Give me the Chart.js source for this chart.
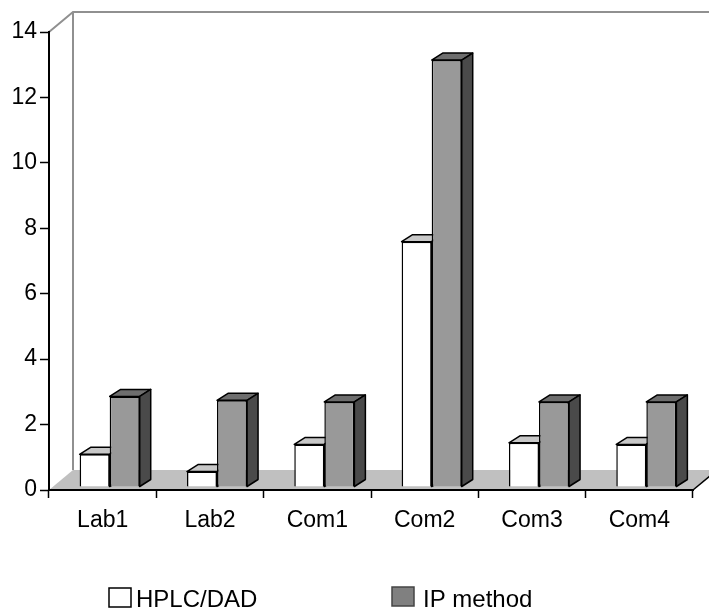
<!DOCTYPE html>
<html>
<head>
<meta charset="utf-8">
<script src="https://cdn.jsdelivr.net/npm/chart.js@4"></script>
<style>
  body { margin: 0; background: #fff; }
  .wrap { width: 709px; height: 608px; }
</style>
</head>
<body>
<div class="wrap"><canvas id="chart"></canvas></div>
<script>
const categories = ['Lab1', 'Lab2', 'Com1', 'Com2', 'Com3', 'Com4'];
const hplcValues = [1.0, 0.47, 1.3, 7.5, 1.35, 1.3];
const ipValues = [2.77, 2.65, 2.6, 13.05, 2.6, 2.6];
const seriesNames = ['HPLC/DAD', 'IP method'];
const yMax = 14;
const yStep = 2;

// fake 3d look
const depth = {x: 11, y: -7};
const shift = {x: 7, y: -3};
const wall = {x: 24, y: -20};
const faceColors = [
  {top: '#c8c8c8', side: '#bcbcbc'},
  {top: '#6e6e6e', side: '#4a4a4a'}
];

Chart.defaults.font.family = "'Liberation Sans', Arial, sans-serif";
Chart.defaults.color = '#000';

const box3d = {
  id: 'box3d',
  beforeDraw(chart) {
    const ctx = chart.ctx;
    const a = chart.chartArea;
    ctx.save();
    // floor
    ctx.beginPath();
    ctx.moveTo(a.left, a.bottom);
    ctx.lineTo(a.right, a.bottom);
    ctx.lineTo(a.right + wall.x, a.bottom + wall.y);
    ctx.lineTo(a.left + wall.x, a.bottom + wall.y);
    ctx.closePath();
    ctx.fillStyle = '#c0c0c0';
    ctx.fill();
    ctx.strokeStyle = '#000';
    ctx.lineWidth = 1.5;
    ctx.beginPath();
    ctx.moveTo(a.right, a.bottom);
    ctx.lineTo(a.right + wall.x, a.bottom + wall.y);
    ctx.stroke();
    // side and back wall
    ctx.strokeStyle = '#909090';
    ctx.lineWidth = 2;
    ctx.beginPath();
    ctx.moveTo(a.left, a.top);
    ctx.lineTo(a.left + wall.x, a.top + wall.y);
    ctx.lineTo(chart.width, a.top + wall.y);
    ctx.moveTo(a.left + wall.x, a.top + wall.y);
    ctx.lineTo(a.left + wall.x, a.bottom + wall.y);
    ctx.stroke();
    ctx.restore();
  },
  beforeDatasetsDraw(chart) {
    const ctx = chart.ctx;
    ctx.save();
    ctx.translate(shift.x, shift.y);
    chart.data.datasets.forEach((ds, i) => {
      chart.getDatasetMeta(i).data.forEach(bar => {
        const p = bar.getProps(['x', 'y', 'base', 'width'], true);
        const l = p.x - p.width / 2;
        const r = p.x + p.width / 2;
        ctx.lineWidth = 1.5;
        ctx.strokeStyle = '#000';
        ctx.lineJoin = 'round';
        // top face
        ctx.beginPath();
        ctx.moveTo(l, p.y);
        ctx.lineTo(l + depth.x, p.y + depth.y);
        ctx.lineTo(r + depth.x, p.y + depth.y);
        ctx.lineTo(r, p.y);
        ctx.closePath();
        ctx.fillStyle = faceColors[i].top;
        ctx.fill();
        ctx.stroke();
        // right face
        ctx.beginPath();
        ctx.moveTo(r, p.y);
        ctx.lineTo(r + depth.x, p.y + depth.y);
        ctx.lineTo(r + depth.x, p.base + depth.y);
        ctx.lineTo(r, p.base);
        ctx.closePath();
        ctx.fillStyle = faceColors[i].side;
        ctx.fill();
        ctx.stroke();
      });
    });
  },
  afterDatasetsDraw(chart) {
    chart.ctx.restore();
  },
  afterDraw(chart) {
    // legend
    const ctx = chart.ctx;
    const items = [
      {x: 109, y: 588, fill: '#fff', stroke: '#000', textX: 136},
      {x: 392, y: 587, fill: '#808080', stroke: '#444', textX: 423}
    ];
    ctx.save();
    ctx.font = "24px 'Liberation Sans', Arial, sans-serif";
    ctx.textBaseline = 'alphabetic';
    items.forEach((it, i) => {
      ctx.fillStyle = it.fill;
      ctx.fillRect(it.x, it.y, 22, 19);
      ctx.strokeStyle = it.stroke;
      ctx.lineWidth = 1.5;
      ctx.strokeRect(it.x, it.y, 22, 19);
      ctx.fillStyle = '#000';
      ctx.fillText(chart.data.datasets[i].label, it.textX, 607);
    });
    ctx.restore();
  }
};

new Chart(document.getElementById('chart'), {
  type: 'bar',
  data: {
    labels: categories,
    datasets: [{
      label: seriesNames[0],
      data: hplcValues,
      backgroundColor: '#ffffff',
      borderColor: '#000',
      borderWidth: 1.5,
      clip: false
    }, {
      label: seriesNames[1],
      data: ipValues,
      backgroundColor: '#999999',
      borderColor: '#000',
      borderWidth: 1.5,
      clip: false
    }]
  },
  options: {
    responsive: true,
    maintainAspectRatio: false,
    animation: false,
    layout: {padding: {top: 32, right: 16, bottom: 0, left: 0}},
    datasets: {bar: {categoryPercentage: 0.56, barPercentage: 1.0}},
    plugins: {
      legend: {display: false},
      tooltip: {enabled: false}
    },
    scales: {
      x: {
        grid: {drawOnChartArea: false, drawTicks: true, tickLength: 8, tickColor: '#000', tickWidth: 1.5, offset: true},
        border: {color: '#000', width: 2},
        ticks: {font: {size: 23}, padding: 9, color: '#000'},
        afterFit(scale) { scale.height = 118; }
      },
      y: {
        min: 0,
        max: yMax,
        grid: {drawOnChartArea: false, drawTicks: true, tickLength: 9, tickColor: '#000', tickWidth: 1.5},
        border: {color: '#000', width: 2},
        ticks: {stepSize: yStep, font: {size: 23}, padding: 3, color: '#000'},
        afterFit(scale) { scale.width = 49; }
      }
    }
  },
  plugins: [box3d]
});
</script>
</body>
</html>
